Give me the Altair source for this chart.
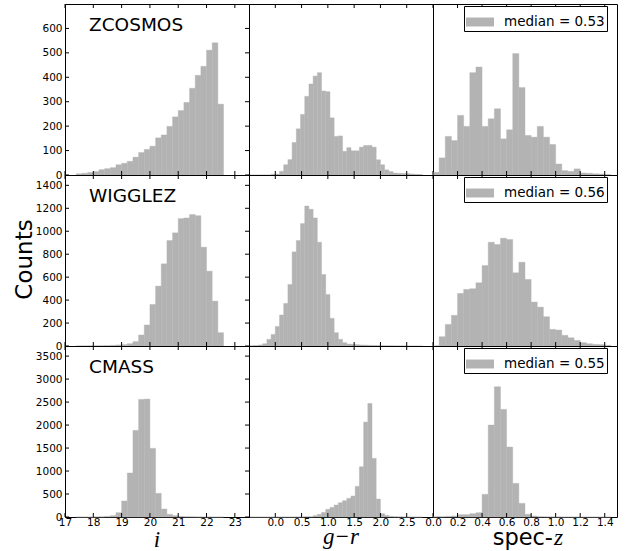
import altair as alt
import pandas as pd

# ---------------- data ----------------
surveys = ["ZCOSMOS", "WIGGLEZ", "CMASS"]
medians = ["median = 0.53", "median = 0.56", "median = 0.55"]

# i-band magnitude histograms: bins of 0.2 starting at 17.4
i_start, i_width = 17.4, 0.2
i_zcosmos = [5, 7, 10, 14, 22, 26, 30, 42, 48, 56, 73, 92, 105, 118, 152, 164,
             199, 238, 264, 297, 355, 408, 445, 511, 541, 290]
i_wigglez = [1, 1, 2, 2, 3, 4, 6, 9, 12, 20, 38, 96, 183, 362, 522, 716, 919,
             986, 1110, 1116, 1145, 1136, 861, 652, 391, 116]
i_cmass = [0, 0, 0, 2, 5, 14, 29, 94, 348, 957, 1884, 2558, 2565, 1493, 514,
           174, 58, 29, 14, 7, 4, 2, 1, 1, 0, 0]

# g-r colour histograms: bins of 0.08 starting at -0.48
gr_start, gr_width = -0.48, 0.08
gr_zcosmos = [0, 0, 0, 0, 0, 3, 4, 15, 42, 63, 133, 189, 248, 322, 373, 405, 419,
              344, 341, 234, 158, 160, 97, 112, 99, 99, 114, 121, 121, 114, 62,
              42, 21, 14, 8, 7, 6, 6, 4, 3, 2]
gr_wigglez = [2, 4, 9, 20, 58, 101, 171, 270, 371, 536, 820, 919, 1067, 1220,
              1191, 1116, 904, 623, 449, 241, 116, 58, 29, 17, 14, 12, 9, 8, 6,
              5, 4, 3, 2, 2, 1, 1, 1, 0, 0, 0, 0]
gr_cmass = [0, 0, 0, 0, 0, 0, 0, 0, 0, 0, 0, 1, 3, 7, 7, 29, 58, 101, 167, 210,
            261, 312, 355, 406, 457, 667, 1094, 2065, 2471, 1275, 391, 72, 36,
            14, 7, 4, 2, 1, 0, 0, 0]

# spectroscopic redshift histograms: bins of 0.05 starting at 0
z_start, z_width = 0.0, 0.05
z_zcosmos = [11, 70, 158, 141, 244, 199, 419, 442, 199, 230, 271, 148, 185, 497,
             358, 162, 155, 199, 155, 125, 45, 18, 15, 25, 8, 7, 5, 4, 2]
z_wigglez = [2, 81, 188, 267, 458, 493, 499, 551, 701, 904, 884, 939, 928, 638,
             730, 580, 383, 339, 255, 145, 139, 93, 72, 49, 29, 20, 14, 12, 6]
z_cmass = [7, 7, 14, 22, 51, 51, 72, 94, 493, 2000, 2833, 2341, 1522, 732, 297,
           58, 22, 7, 4, 2, 1, 0, 0, 0, 0, 0, 0, 0, 0]

# axis ranges and tick labels
x_domains = [[17, 23.5], [-0.5, 3.0], [0.0, 1.5]]
x_ticks = [[17, 18, 19, 20, 21, 22, 23],
           [0.0, 0.5, 1.0, 1.5, 2.0, 2.5],
           [0.0, 0.2, 0.4, 0.6, 0.8, 1.0, 1.2, 1.4]]
x_formats = ["d", ".1f", ".1f"]
y_domains = [[0, 700], [0, 1490], [0, 3720]]
y_ticks = [[0, 100, 200, 300, 400, 500, 600],
           [0, 200, 400, 600, 800, 1000, 1200, 1400],
           [0, 500, 1000, 1500, 2000, 2500, 3000, 3500]]

COUNTS = [[i_zcosmos, i_wigglez, i_cmass],
          [gr_zcosmos, gr_wigglez, gr_cmass],
          [z_zcosmos, z_wigglez, z_cmass]]
STARTS = [i_start, gr_start, z_start]
WIDTHS = [i_width, gr_width, z_width]

# ---------------- styling ----------------
GREY = "#b3b3b3"
W, H = 184, 171
SANS = "DejaVu Sans"
MATH = "Liberation Serif"
TICK = 4


def text_layer(txt, x, y, size, font, align="left", style="normal", angle=0):
    return alt.Chart(pd.DataFrame({"t": [txt]})).mark_text(
        align=align, baseline="alphabetic", fontSize=size, font=font,
        fontStyle=style, angle=angle, color="black"
    ).encode(text="t:N", x=alt.value(x), y=alt.value(y))


def panel(r, c):
    counts = COUNTS[c][r]
    start, width = STARTS[c], WIDTHS[c]
    n = len(counts)
    df = pd.DataFrame({
        "lo": [round(start + k * width, 4) for k in range(n)],
        "hi": [round(start + (k + 1) * width, 4) for k in range(n)],
        "n": counts,
    })
    xs = alt.Scale(domain=x_domains[c], nice=False, zero=False)
    ys = alt.Scale(domain=y_domains[r], nice=False, zero=False)

    xaxis = (alt.Axis(values=x_ticks[c], format=x_formats[c], title=None,
                      labelPadding=0, labelFlush=False, labelOverlap=False)
             if r == 2 else None)
    yaxis = (alt.Axis(values=y_ticks[r], format="d", title=None,
                      labelPadding=3, labelOverlap=False)
             if c == 0 else None)

    enc = dict(
        x=alt.X("lo:Q", scale=xs, axis=xaxis),
        x2=alt.X2("hi"),
        y=alt.Y("n:Q", scale=ys, axis=yaxis),
        y2=alt.datum(0),
    )
    if c == 2:
        df["lab"] = medians[r]
        enc["color"] = alt.Color(
            "lab:N",
            scale=alt.Scale(domain=[medians[r]], range=[GREY]),
            legend=alt.Legend(
                title=None, orient="none", legendX=31, legendY=2,
                strokeColor="black", fillColor="white", padding=2,
                cornerRadius=0, symbolType="M-1,-0.32H1V0.32H-1Z",
                symbolSize=784, symbolStrokeWidth=0, symbolOpacity=1,
                labelFont=SANS, labelFontSize=13.5, labelColor="black",
                labelOffset=10,
            ),
        )
    else:
        enc["color"] = alt.value(GREY)

    layers = [alt.Chart(df).mark_rect(stroke=GREY, strokeWidth=0.4).encode(**enc)]

    xt = pd.DataFrame({"v": x_ticks[c]})
    layers.append(alt.Chart(xt).mark_rule(color="black", strokeWidth=1).encode(
        x=alt.X("v:Q", scale=xs, axis=xaxis), y=alt.value(H - TICK), y2=alt.value(H)))
    layers.append(alt.Chart(xt).mark_rule(color="black", strokeWidth=1).encode(
        x=alt.X("v:Q", scale=xs, axis=xaxis), y=alt.value(0), y2=alt.value(TICK)))
    if c == 0:
        yt = pd.DataFrame({"v": y_ticks[r]})
        layers.append(alt.Chart(yt).mark_rule(color="black", strokeWidth=1).encode(
            y=alt.Y("v:Q", scale=ys, axis=yaxis), x=alt.value(0), x2=alt.value(TICK)))
        layers.append(alt.Chart(yt).mark_rule(color="black", strokeWidth=1).encode(
            y=alt.Y("v:Q", scale=ys, axis=yaxis), x=alt.value(W - TICK), x2=alt.value(W)))
        layers.append(text_layer(surveys[r], 24, 27, 18.5, SANS))
        if r == 1:
            layers.append(text_layer("Counts", -33, H / 2 - 1, 23, SANS,
                                     align="center", angle=270))
    if r == 2:
        if c == 0:
            layers.append(text_layer("i", W / 2, H + 30, 23, MATH,
                                     align="center", style="italic"))
        elif c == 1:
            layers.append(text_layer("g\u2212r", W / 2, H + 27, 23, MATH,
                                     align="center", style="italic"))
        else:
            layers.append(text_layer("spec-", 120, H + 28, 22.5, SANS, align="right"))
            layers.append(text_layer("z", 121, H + 28, 23.5, MATH, style="italic"))

    return alt.layer(*layers).properties(width=W, height=H)


panels = [panel(r, c) for r in range(3) for c in range(3)]

chart = (
    alt.concat(*panels, columns=3, spacing=0, bounds="flush")
    .resolve_scale(x="independent", y="independent", color="independent")
    .resolve_legend(color="independent")
    .properties(padding={"left": 13, "top": 3, "right": 5, "bottom": 0},
                background="white")
    .configure_view(stroke="black", strokeWidth=1)
    .configure_axis(grid=False, domain=False, ticks=False, labelFont=SANS,
                    labelFontSize=10.5, labelColor="black")
)

chart.save("out.html", embed_options={"renderer": "svg", "actions": False})
